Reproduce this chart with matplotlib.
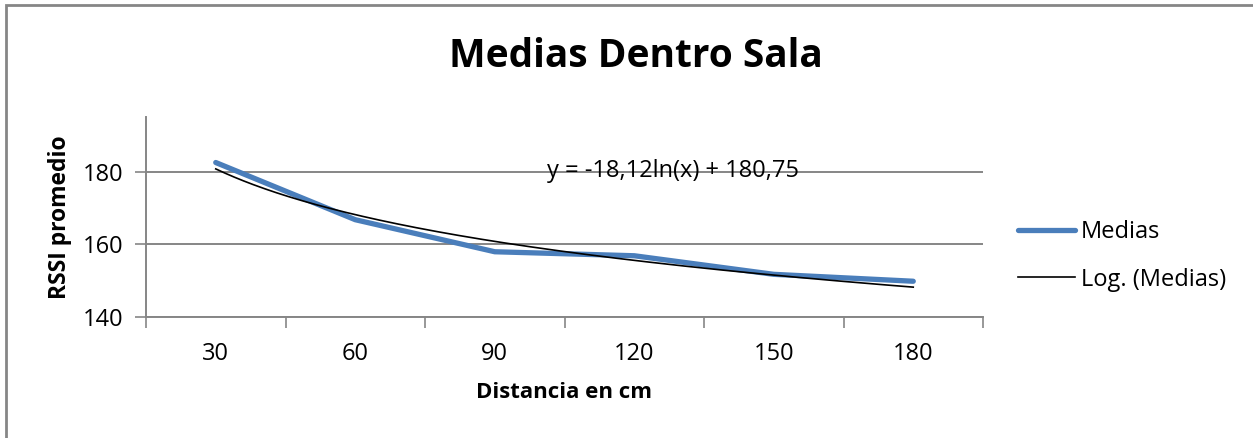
import numpy as np
import matplotlib
matplotlib.use("Agg")
import matplotlib.pyplot as plt
from matplotlib.lines import Line2D
from matplotlib.patches import Rectangle

# Data
distances = ["30", "60", "90", "120", "150", "180"]
medias = [182.5, 166.8, 158.0, 156.9, 151.8, 149.9]

# Logarithmic trendline coefficients (y = a*ln(x) + b, x = category index)
trend_a = -18.12
trend_b = 180.75

title = "Medias Dentro Sala"
xlabel = "Distancia en cm"
ylabel = "RSSI promedio"
y_ticks = [140, 160, 180]

plt.rcParams["font.family"] = ["Open Sans", "DejaVu Sans"]

GRID = "#868686"
BLUE = "#4A7EBB"

fig = plt.figure(figsize=(12.53, 4.38), dpi=100)
fig.patch.set_facecolor("white")

# Chart-area border (top and left edges visible)
fig.patches.append(Rectangle((6 / 1253, -0.1), 1.2, (438 - 4.5) / 438 + 0.1,
                             transform=fig.transFigure, fill=False,
                             edgecolor=GRID, linewidth=2.0, zorder=0))

ax = fig.add_axes([146 / 1253, (438 - 317.3) / 438, 837 / 1253, 200.3 / 438])

pos = np.arange(len(distances))
ax.plot(pos, medias, color=BLUE, linewidth=3.8, solid_capstyle="round",
        solid_joinstyle="round", zorder=3, label="Medias")

t = np.linspace(1, len(distances), 300)
ax.plot(t - 1, trend_a * np.log(t) + trend_b, color="black", linewidth=1.2,
        zorder=4, label="Log. (Medias)")

ax.set_xlim(-0.5, len(distances) - 0.5)
ax.set_ylim(140, 195)

ax.set_yticks(y_ticks)
ax.set_xticks(pos)
ax.set_xticklabels(distances)
ax.set_xticks(np.arange(-0.5, len(distances), 1.0), minor=True)
ax.tick_params(axis="x", which="major", length=0, pad=18, labelsize=17)
ax.tick_params(axis="x", which="minor", length=8, width=1.2, color=GRID, direction="out")
ax.tick_params(axis="y", which="major", length=8, width=1.2, color=GRID,
               direction="out", pad=8, labelsize=17)

for side in ("top", "right"):
    ax.spines[side].set_visible(False)
for side in ("left", "bottom"):
    ax.spines[side].set_color(GRID)
    ax.spines[side].set_linewidth(1.4)

ax.yaxis.grid(True, color=GRID, linewidth=1.4)
ax.set_axisbelow(True)

ax.set_xlabel(xlabel, fontsize=16, fontweight="bold", labelpad=11)
ax.set_ylabel(ylabel, fontsize=16.5, fontweight="bold", labelpad=8)

ax.text(3.28, 180.1, "y = -18,12ln(x) + 180,75", fontsize=17,
        ha="center", va="center", zorder=5)

fig.text(635.5 / 1253, 1 - 67 / 438, title, fontsize=28, fontweight="bold",
         ha="center", va="baseline")

handles = [
    Line2D([], [], color=BLUE, linewidth=3.8, solid_capstyle="round"),
    Line2D([], [], color="black", linewidth=1.2),
]
fig.legend(handles, ["Medias", "Log. (Medias)"], loc="upper left",
           bbox_to_anchor=(1018 / 1253, 1 - 220 / 438), frameon=False,
           fontsize=17, handlelength=2.4, handletextpad=0.25, labelspacing=1.0,
           borderaxespad=0, borderpad=0)

fig.savefig("out.png", dpi=100, facecolor="white")
